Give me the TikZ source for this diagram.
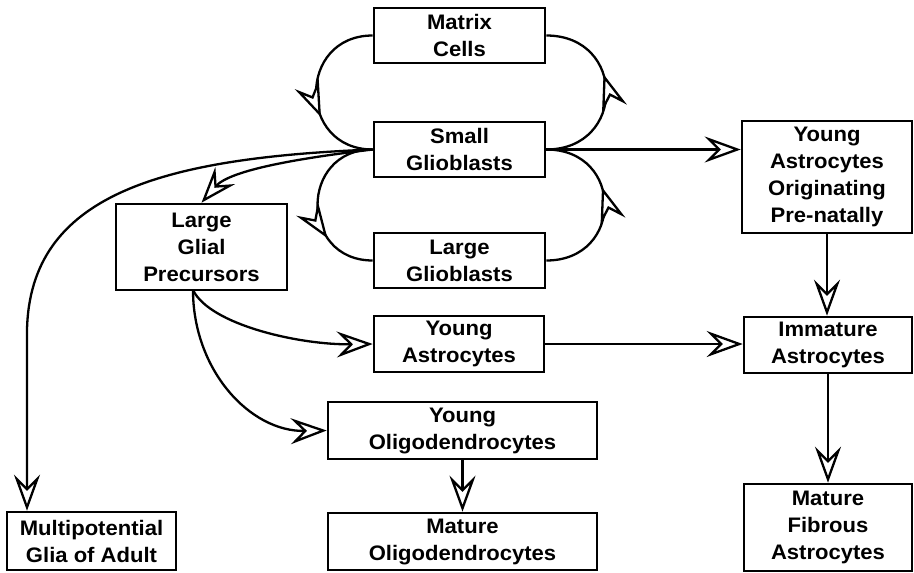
\documentclass[tikz,border=0pt]{standalone}
\usepackage{fontspec}
\setmainfont{Liberation Sans}[FakeStretch=1.05]
\usetikzlibrary{arrows.meta,decorations.markings,calc}
\tikzset{tipA/.tip={Stealth[length=36pt,width=26pt,inset=13pt,fill=white]}}
\begin{document}
\begin{tikzpicture}[x=1pt,y=-1pt,
  box/.style={draw, line width=2.6pt, inner sep=0pt, align=center, font=\fontsize{21}{27}\selectfont\bfseries},
  ln/.style={line width=2.3pt},
  arr/.style={ln, -{tipA}},
  mid/.style={ln, postaction={decorate, decoration={markings, mark=at position #1 with {\arrow{tipA}}}}}]
\useasboundingbox (0,0) rectangle (914,573);

\node[box, minimum width=171pt, minimum height=55pt] (matrix) at (459.5,35.5) {Matrix\\Cells};
\node[box, minimum width=171pt, minimum height=55pt] (small) at (459.5,149.5) {Small\\Glioblasts};
\node[box, minimum width=171pt, minimum height=55pt] (largegb) at (459.5,260.5) {Large\\Glioblasts};
\node[box, minimum width=171pt, minimum height=86pt] (lgp) at (201.5,247) {Large\\Glial\\Precursors};
\node[box, minimum width=170pt, minimum height=56pt] (ya) at (459,344) {Young\\Astrocytes};
\node[box, minimum width=269pt, minimum height=57pt] (yo) at (462.5,430.5) {Young\\Oligodendrocytes};
\node[box, minimum width=269pt, minimum height=57pt] (mo) at (462.5,541.5) {Mature\\Oligodendrocytes};
\node[box, minimum width=169pt, minimum height=58pt] (multi) at (91.5,541) {Multipotential\\Glia of Adult};
\node[box, minimum width=170pt, minimum height=112pt] (yaop) at (827,177) {Young\\Astrocytes\\Originating\\Pre-natally};
\node[box, minimum width=168pt, minimum height=56pt] (imm) at (828,345) {Immature\\Astrocytes};
\node[box, minimum width=168pt, minimum height=87pt] (mfa) at (828,527.5) {Mature\\Fibrous\\Astrocytes};

\coordinate (mp) at (27,330);
\coordinate (lgpout) at (193,290);

% loops
\draw[mid=0.64] (matrix.west) to[out=180,in=180,looseness=1.7] (small.west);
\draw[mid=0.6] (small.east) to[out=0,in=0,looseness=1.8] (matrix.east);
\draw[mid=0.7] (small.west) to[out=180,in=180,looseness=1.7] (largegb.west);
\draw[mid=0.6] (largegb.east) to[out=0,in=0,looseness=1.8] (small.east);

% from small glioblasts
\draw[arr] (small.west) .. controls (300,158) and (230,170) .. (lgp.north);
\draw[arr] (small.west) .. controls (160,158) and (30,195) .. (mp) -- (mp |- multi.north);
\draw[arr] (small.east) -- (small.east -| yaop.west);

% right column
\draw[arr] (yaop.south) -- (yaop.south |- imm.north);
\draw[arr] (imm.south) -- (mfa.north);
\draw[arr] (ya.east) -- (ya.east -| imm.west);

% from large glial precursors
\draw[arr] (lgpout) .. controls (210,325) and (300,345) .. (ya.west);
\draw[arr] (lgpout) .. controls (193,370) and (250,432) .. (yo.west);
\draw[arr] (yo.south) -- (mo.north);
\end{tikzpicture}
\end{document}
